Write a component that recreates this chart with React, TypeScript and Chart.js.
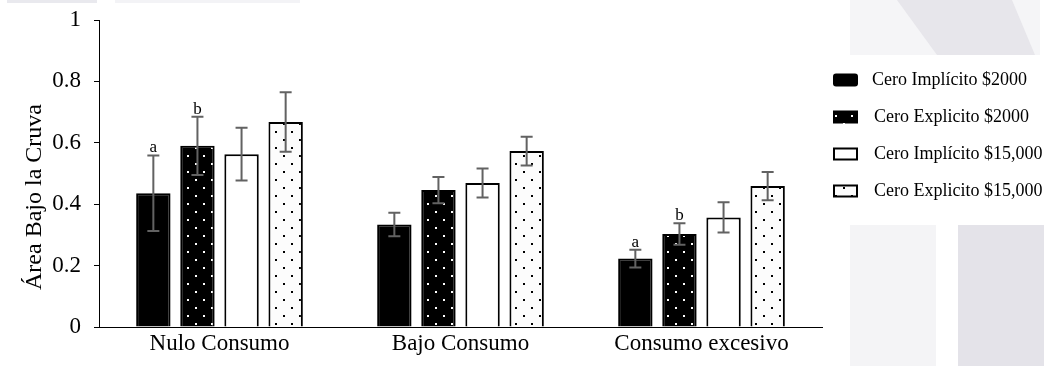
import React, { useEffect, useRef } from "react";
import { Chart, registerables } from "chart.js";

Chart.register(...registerables);

const categories = ["Nulo Consumo", "Bajo Consumo", "Consumo excesivo"];
const seriesNames = [
  "Cero Implícito $2000",
  "Cero Explicito $2000",
  "Cero Implícito $15,000",
  "Cero Explicito $15,000",
];
const implicito2000 = [0.436, 0.334, 0.223];
const explicito2000 = [0.59, 0.446, 0.303];
const implicito15000 = [0.563, 0.469, 0.357];
const explicito15000 = [0.668, 0.573, 0.459];

const errImplicito2000 = [0.123, 0.038, 0.029];
const errExplicito2000 = [0.095, 0.043, 0.035];
const errImplicito15000 = [0.086, 0.047, 0.049];
const errExplicito15000 = [0.097, 0.047, 0.046];

const lettersImplicito2000 = ["a", "", "a"];
const lettersExplicito2000 = ["b", "", "b"];

const yTicks = [0, 0.2, 0.4, 0.6, 0.8, 1];
const yTitle = "Área Bajo la Cruva";

const FONT = '"Liberation Serif", "Times New Roman", serif';

function dotPattern(bg: string, dot: string): CanvasPattern | string {
  const c = document.createElement("canvas");
  c.width = 16;
  c.height = 16;
  const g = c.getContext("2d");
  if (!g) return bg;
  g.fillStyle = bg;
  g.fillRect(0, 0, 16, 16);
  g.fillStyle = dot;
  g.fillRect(3, 3, 2, 2);
  g.fillRect(11, 11, 2, 2);
  return g.createPattern(c, "repeat") || bg;
}

const errorSets = [errImplicito2000, errExplicito2000, errImplicito15000, errExplicito15000];
const letterSets = [lettersImplicito2000, lettersExplicito2000, [], []];

const backgroundPlugin = {
  id: "bgWatermark",
  beforeDraw(chart: any) {
    const ctx = chart.ctx as CanvasRenderingContext2D;
    ctx.save();
    ctx.fillStyle = "#ffffff";
    ctx.fillRect(0, 0, chart.width, chart.height);
    ctx.fillStyle = "#e9e9ee";
    ctx.fillRect(7, 0, 90, 3);
    ctx.fillStyle = "#f3f3f6";
    ctx.fillRect(115, 0, 185, 3);
    ctx.fillStyle = "#f5f5f7";
    ctx.fillRect(850, 0, 190, 55);
    ctx.fillStyle = "#e7e6eb";
    ctx.beginPath();
    ctx.moveTo(897, 0);
    ctx.lineTo(1012, 0);
    ctx.lineTo(1035, 55);
    ctx.lineTo(937, 55);
    ctx.closePath();
    ctx.fill();
    ctx.fillStyle = "#f4f4f6";
    ctx.fillRect(850, 225, 86, 141);
    ctx.fillStyle = "#e4e3e9";
    ctx.fillRect(958, 225, 86, 141);
    ctx.restore();
  },
};

const errorBarPlugin = {
  id: "errorBars",
  afterDatasetsDraw(chart: any) {
    const ctx = chart.ctx as CanvasRenderingContext2D;
    const yScale = chart.scales.y;
    ctx.save();
    chart.data.datasets.forEach((ds: any, di: number) => {
      const meta = chart.getDatasetMeta(di);
      meta.data.forEach((bar: any, i: number) => {
        const v = ds.data[i] as number;
        const e = errorSets[di][i];
        const x = bar.x;
        const yt = yScale.getPixelForValue(v + e);
        const yb = yScale.getPixelForValue(v - e);
        ctx.strokeStyle = "#626262";
        ctx.lineWidth = 2;
        ctx.beginPath();
        ctx.moveTo(x, yt);
        ctx.lineTo(x, yb);
        ctx.moveTo(x - 6, yt);
        ctx.lineTo(x + 6, yt);
        ctx.moveTo(x - 6, yb);
        ctx.lineTo(x + 6, yb);
        ctx.stroke();
        const letter = letterSets[di][i];
        if (letter) {
          ctx.fillStyle = "#000";
          ctx.font = `17px ${FONT}`;
          ctx.textAlign = "center";
          ctx.textBaseline = "alphabetic";
          ctx.fillText(letter, x, yt - 3);
        }
      });
    });
    ctx.restore();
  },
};

const legendPlugin = {
  id: "sideLegend",
  afterDraw(chart: any) {
    const ctx = chart.ctx as CanvasRenderingContext2D;
    ctx.save();
    const boxX = 833;
    const boxW = 25;
    const boxH = 13;
    const textX = 872;
    chart.data.datasets.forEach((ds: any, di: number) => {
      const cy = 80 + di * 37;
      const top = cy - boxH / 2;
      ctx.fillStyle = ds.backgroundColor;
      if (di === 0) {
        ctx.beginPath();
        (ctx as any).roundRect(boxX, top, boxW, boxH, 3);
        ctx.fill();
      } else {
        ctx.fillRect(boxX, top, boxW, boxH);
        if (di >= 2) {
          ctx.strokeStyle = "#000";
          ctx.lineWidth = 2;
          ctx.strokeRect(boxX + 1, top + 1, boxW - 2, boxH - 2);
        }
      }
      ctx.fillStyle = "#000";
      ctx.font = `18px ${FONT}`;
      ctx.textAlign = "left";
      ctx.textBaseline = "middle";
      ctx.fillText(ds.label, textX + (di > 0 ? 2 : 0), cy);
    });
    ctx.restore();
  },
};

const yTitlePlugin = {
  id: "yTitle",
  afterDraw(chart: any) {
    const ctx = chart.ctx as CanvasRenderingContext2D;
    ctx.save();
    ctx.translate(35, 197);
    ctx.rotate(-Math.PI / 2);
    ctx.fillStyle = "#000";
    ctx.font = `24px ${FONT}`;
    ctx.textAlign = "center";
    ctx.textBaseline = "middle";
    ctx.fillText(yTitle, 0, 0);
    ctx.restore();
  },
};

export default function App() {
  const ref = useRef<HTMLCanvasElement>(null);

  useEffect(() => {
    if (!ref.current) return;
    const patBlack = dotPattern("#000000", "#ffffff");
    const patWhite = dotPattern("#fcfcfc", "#000000");
    const values = [implicito2000, explicito2000, implicito15000, explicito15000];
    const fills = ["#000000", patBlack, "#ffffff", patWhite];
    const chart = new Chart(ref.current, {
      type: "bar",
      data: {
        labels: categories,
        datasets: values.map((d, i) => ({
          label: seriesNames[i],
          data: d,
          backgroundColor: fills[i] as any,
          borderColor: "#000000",
          borderWidth: 2,
          categoryPercentage: 0.732,
          barPercentage: 0.78,
        })),
      },
      options: {
        animation: false,
        responsive: false,
        devicePixelRatio: 1,
        layout: { padding: { top: 20, right: 229, left: 0, bottom: 0 } },
        plugins: {
          legend: { display: false },
          tooltip: { enabled: false },
        },
        scales: {
          x: {
            grid: { display: false, drawTicks: false },
            border: { display: true, color: "#000", width: 1 },
            ticks: { color: "#000", font: { family: FONT, size: 23 }, padding: 3, maxRotation: 0 },
            afterFit: (s: any) => {
              s.height = 39;
              s.paddingLeft = 0;
              s.paddingRight = 0;
            },
          },
          y: {
            min: 0,
            max: 1,
            grid: { drawOnChartArea: false, drawTicks: true, tickLength: 5, color: "#000" },
            border: { display: true, color: "#000", width: 1 },
            ticks: {
              color: "#000",
              font: { family: FONT, size: 23, lineHeight: 0.8 },
              padding: 13,
              callback: (v: any) => String(Math.round(Number(v) * 10) / 10),
            },
            afterBuildTicks: (s: any) => {
              s.ticks = yTicks.map((v) => ({ value: v }));
            },
            afterFit: (s: any) => {
              s.width = 99;
              s.paddingTop = 0;
              s.paddingBottom = 0;
            },
          },
        },
      },
      plugins: [backgroundPlugin, errorBarPlugin, legendPlugin, yTitlePlugin],
    });
    return () => chart.destroy();
  }, []);

  return (
    <div style={{ position: "absolute", left: 0, top: 0, width: 1051, height: 366 }}>
      <canvas ref={ref} width={1051} height={366} style={{ display: "block", width: 1051, height: 366 }} />
    </div>
  );
}
